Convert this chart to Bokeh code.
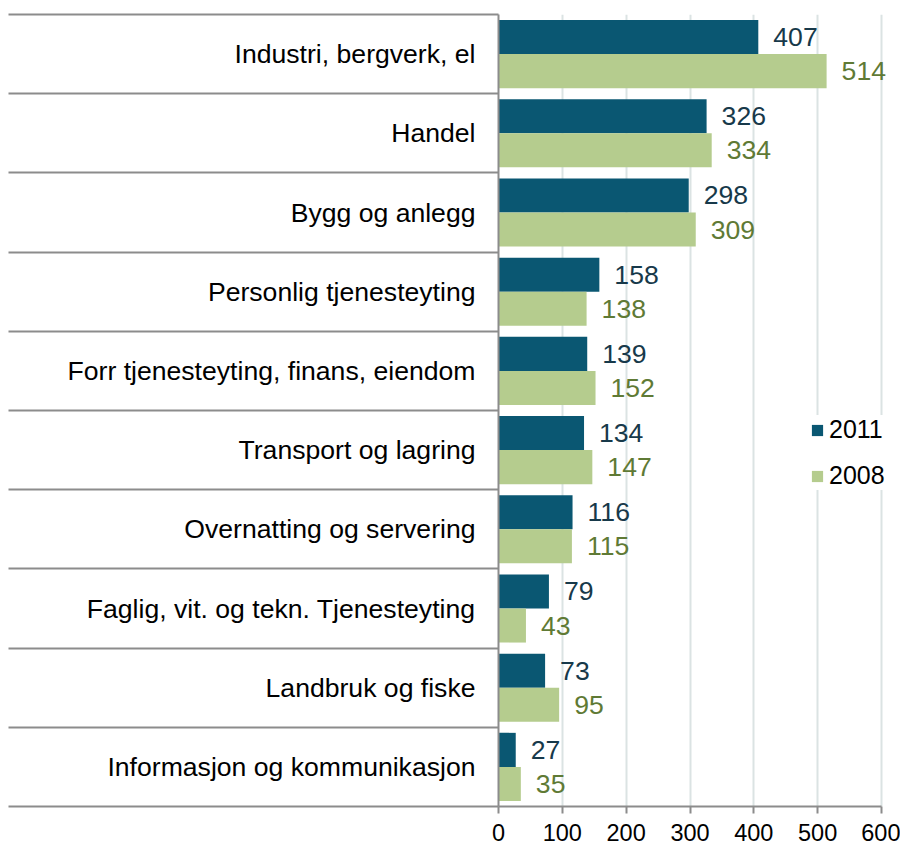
from bokeh.plotting import figure
from bokeh.models import Range1d, FixedTicker, Legend, LegendItem, ColumnDataSource
from bokeh.transform import dodge
from bokeh.embed import file_html
from bokeh.resources import INLINE
from bokeh.core.properties import value

categories = [
    "Industri, bergverk, el",
    "Handel",
    "Bygg og anlegg",
    "Personlig tjenesteyting",
    "Forr tjenesteyting, finans, eiendom",
    "Transport og lagring",
    "Overnatting og servering",
    "Faglig, vit. og tekn. Tjenesteyting",
    "Landbruk og fiske",
    "Informasjon og kommunikasjon",
]
v2011 = [407, 326, 298, 158, 139, 134, 116, 79, 73, 27]
v2008 = [514, 334, 309, 138, 152, 147, 115, 43, 95, 35]
x_ticks = [0, 100, 200, 300, 400, 500, 600]
series = ["2011", "2008"]

FONT = "Liberation Sans"
C2011 = "#0a5772"
C2008 = "#b5cc8e"
T2011 = "#17394a"
T2008 = "#5f7a35"
AXIS = "#8c8c8c"
GRID = "#dbe3e3"

n = len(categories)
idx = list(range(n))
src = ColumnDataSource(dict(
    idx=idx, cat=categories, v2011=v2011, v2008=v2008,
    l2011=[str(v) for v in v2011], l2008=[str(v) for v in v2008],
))

XMAX = 600 * (900 - 498) / (881 - 498)   # frame extends past 600 for labels/legend

p = figure(width=900, height=850, output_backend="svg", toolbar_location=None,
           x_range=Range1d(0, XMAX), y_range=Range1d(n - 0.5, -0.5),
           min_border_left=498, min_border_right=0, min_border_top=14,
           min_border_bottom=44)
p.outline_line_color = None

OFF = 0.215
H = 0.43
r1 = p.hbar(y=dodge("idx", -OFF, range=p.y_range), left=0, right="v2011", height=H,
            fill_color=C2011, line_color=None, source=src)
r2 = p.hbar(y=dodge("idx", OFF, range=p.y_range), left=0, right="v2008", height=H,
            fill_color=C2008, line_color=None, source=src)

p.text(x="v2011", y=dodge("idx", -OFF, range=p.y_range), text="l2011", source=src,
       x_offset=15, text_align="left", text_baseline="middle",
       text_font=value(FONT), text_font_size="26.6px", text_color=T2011)
p.text(x="v2008", y=dodge("idx", OFF, range=p.y_range), text="l2008", source=src,
       x_offset=15, text_align="left", text_baseline="middle",
       text_font=value(FONT), text_font_size="26.6px", text_color=T2008)

# y axis: category labels at centers, separators as long minor ticks at boundaries
SEP = 490
yax = p.yaxis[0]
yax.ticker = FixedTicker(ticks=idx, minor_ticks=[i - 0.5 for i in range(n + 1)])
yax.major_label_overrides = {i: c for i, c in enumerate(categories)}
yax.major_tick_out = 0
yax.major_tick_in = 0
yax.minor_tick_out = SEP
yax.minor_tick_in = 0
yax.minor_tick_line_color = AXIS
yax.minor_tick_line_width = 2
yax.axis_line_color = AXIS
yax.axis_line_width = 2
yax.major_label_standoff = 23 - SEP
yax.major_label_text_font = FONT
yax.major_label_text_font_size = "26.6px"
yax.major_label_text_color = "#000000"
p.ygrid.visible = False

xax = p.xaxis[0]
xax.ticker = FixedTicker(ticks=x_ticks)
xax.bounds = (0, 600)
xax.minor_tick_line_color = None
xax.major_tick_out = 7
xax.major_tick_in = 0
xax.major_tick_line_color = AXIS
xax.major_tick_line_width = 2
xax.axis_line_color = AXIS
xax.axis_line_width = 2
xax.major_label_standoff = 10
xax.major_label_text_font = FONT
xax.major_label_text_font_size = "23.5px"
xax.major_label_text_color = "#000000"
p.xgrid.grid_line_color = GRID
p.xgrid.grid_line_width = 2

legend = Legend(items=[LegendItem(label=series[0], renderers=[r1]),
                       LegendItem(label=series[1], renderers=[r2])],
                location=(312, 316), orientation="vertical",
                glyph_width=14, glyph_height=14, label_standoff=5,
                spacing=17, padding=4, margin=0,
                border_line_color=None, background_fill_color="white",
                background_fill_alpha=1.0,
                label_text_font=FONT, label_text_font_size="25px",
                label_text_color="#000000")
p.add_layout(legend)

open("out.html", "w").write(file_html(p, INLINE))
